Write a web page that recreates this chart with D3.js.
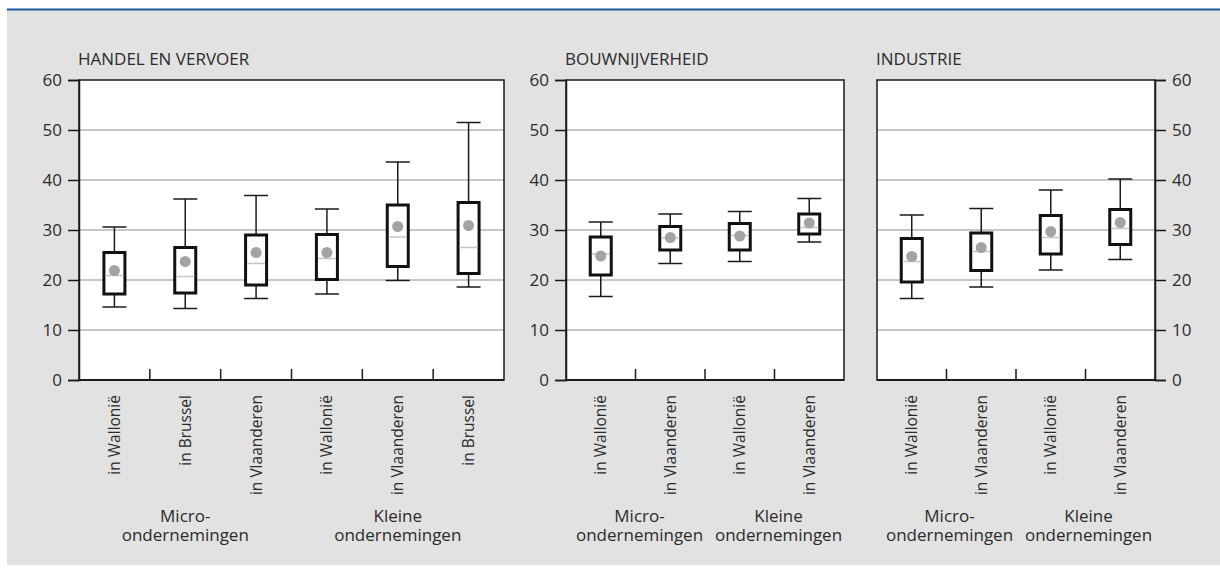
<!DOCTYPE html>
<html>
<head>
<meta charset="utf-8">
<script src="https://cdnjs.cloudflare.com/ajax/libs/d3/7.8.5/d3.min.js"></script>
<style>
  body { margin: 0; background: #fff; }
  svg { display: block; font-family: "Open Sans", "Noto Sans", sans-serif; }
  text { fill: #2b2b2b; }
</style>
</head>
<body>
<div id="plot"></div>
<script>
/* Step 1
 * Data
 */
// =================================
var yTicks = [0, 10, 20, 30, 40, 50, 60];

// HANDEL EN VERVOER
var handelCats = ["in Wallonië", "in Brussel", "in Vlaanderen", "in Wallonië", "in Vlaanderen", "in Brussel"];
var handelLow = [14.6, 14.3, 16.3, 17.2, 19.9, 18.6];
var handelQ1 = [17.2, 17.4, 19.0, 20.1, 22.7, 21.3];
var handelMedian = [20.9, 20.7, 23.3, 24.3, 28.6, 26.5];
var handelQ3 = [25.5, 26.5, 29.0, 29.1, 35.0, 35.5];
var handelHigh = [30.6, 36.2, 36.9, 34.2, 43.6, 51.5];
var handelMean = [21.9, 23.7, 25.5, 25.5, 30.7, 30.9];

// BOUWNIJVERHEID
var bouwCats = ["in Wallonië", "in Vlaanderen", "in Wallonië", "in Vlaanderen"];
var bouwLow = [16.7, 23.3, 23.7, 27.6];
var bouwQ1 = [21.0, 26.0, 26.0, 29.2];
var bouwMedian = [25.2, 28.4, 28.9, 30.5];
var bouwQ3 = [28.6, 30.7, 31.3, 33.2];
var bouwHigh = [31.6, 33.2, 33.7, 36.3];
var bouwMean = [24.8, 28.5, 28.8, 31.4];

// INDUSTRIE
var industrieCats = ["in Wallonië", "in Vlaanderen", "in Wallonië", "in Vlaanderen"];
var industrieLow = [16.3, 18.6, 22.0, 24.1];
var industrieQ1 = [19.6, 21.9, 25.2, 27.1];
var industrieMedian = [23.7, 25.7, 28.5, 30.3];
var industrieQ3 = [28.3, 29.4, 32.9, 34.1];
var industrieHigh = [33.0, 34.3, 38.0, 40.2];
var industrieMean = [24.7, 26.5, 29.7, 31.5];

var groupLabels = [["Micro-", "ondernemingen"], ["Kleine", "ondernemingen"]];

/* Step 2
 * Workspace
 */
// =================================
var svgWidth = 1220;
var svgHeight = 574;

var svg = d3.select("#plot")
    .append("svg")
    .attr("width", svgWidth)
    .attr("height", svgHeight);

// grey backdrop + blue rule on top
svg.append("rect")
    .attr("x", 7)
    .attr("y", 10)
    .attr("width", svgWidth - 7)
    .attr("height", 555)
    .attr("fill", "#e2e2e2");

svg.append("line")
    .attr("x1", 7)
    .attr("x2", svgWidth)
    .attr("y1", 9.5)
    .attr("y2", 9.5)
    .attr("stroke", "#1d5996")
    .attr("stroke-width", 2);

var yScale = d3.scaleLinear()
    .domain([0, 60])
    .range([380, 80]);

function buildPanel(p) {
    var x0 = p.left, x1 = p.right;
    var g = svg.append("g");

    var stats = p.cats.map(function (c, i) {
        return {
            idx: i, cat: c, low: p.low[i], q1: p.q1[i], median: p.median[i],
            q3: p.q3[i], high: p.high[i], mean: p.mean[i]
        };
    });

    var xScale = d3.scaleBand()
        .domain(d3.range(p.cats.length))
        .range([x0, x1]);

    // white plot area
    g.append("rect")
        .attr("x", x0)
        .attr("y", yScale(60))
        .attr("width", x1 - x0)
        .attr("height", yScale(0) - yScale(60))
        .attr("fill", "#fff");

    // gridlines
    g.selectAll(".grid")
        .data(yTicks.filter(function (t) { return t > 0 && t < 60; }))
        .enter()
        .append("line")
        .attr("x1", x0)
        .attr("x2", x1)
        .attr("y1", function (d) { return yScale(d); })
        .attr("y2", function (d) { return yScale(d); })
        .attr("stroke", "#b4b4b4")
        .attr("stroke-width", 1.5);

    // frame
    g.append("rect")
        .attr("x", x0)
        .attr("y", yScale(60))
        .attr("width", x1 - x0)
        .attr("height", yScale(0) - yScale(60))
        .attr("fill", "none")
        .attr("stroke", "#1a1a1a")
        .attr("stroke-width", 1.5);

    // value axis
    var axis = p.axisRight ? d3.axisRight(yScale) : d3.axisLeft(yScale);
    axis.tickValues(yTicks).tickSize(11).tickPadding(6);
    var axG = g.append("g")
        .attr("transform", "translate(" + (p.axisRight ? x1 : x0) + ",0)")
        .call(axis);
    axG.select(".domain").attr("stroke", "#1a1a1a").attr("stroke-width", 1.5);
    axG.selectAll(".tick line").attr("stroke", "#1a1a1a").attr("stroke-width", 1.5);
    axG.selectAll(".tick text")
        .attr("font-size", "17px")
        .attr("fill", "#2b2b2b")
        .attr("font-family", "'Open Sans', sans-serif");

    // bottom axis line + category separators (pointing up)
    g.append("line")
        .attr("x1", x0).attr("x2", x1)
        .attr("y1", yScale(0)).attr("y2", yScale(0))
        .attr("stroke", "#1a1a1a").attr("stroke-width", 2);
    g.selectAll(".sep")
        .data(d3.range(1, p.cats.length))
        .enter()
        .append("line")
        .attr("x1", function (d) { return xScale(d); })
        .attr("x2", function (d) { return xScale(d); })
        .attr("y1", yScale(0))
        .attr("y2", yScale(0) - 11)
        .attr("stroke", "#1a1a1a")
        .attr("stroke-width", 1.5);

    // title
    g.append("text")
        .attr("x", x0 - 1)
        .attr("y", 65)
        .attr("font-size", "17px")
        .text(p.title);

    // boxes
    var bw = 24;
    var boxes = g.selectAll(".box")
        .data(stats)
        .enter()
        .append("g")
        .attr("transform", function (d) {
            return "translate(" + (xScale(d.idx) + xScale.bandwidth() / 2) + ",0)";
        });

    // whiskers
    boxes.append("line")
        .attr("x1", 0).attr("x2", 0)
        .attr("y1", function (d) { return yScale(d.high); })
        .attr("y2", function (d) { return yScale(d.q3); })
        .attr("stroke", "#1a1a1a").attr("stroke-width", 1.5);
    boxes.append("line")
        .attr("x1", 0).attr("x2", 0)
        .attr("y1", function (d) { return yScale(d.q1); })
        .attr("y2", function (d) { return yScale(d.low); })
        .attr("stroke", "#1a1a1a").attr("stroke-width", 1.5);
    boxes.append("line")
        .attr("x1", -bw / 2).attr("x2", bw / 2)
        .attr("y1", function (d) { return yScale(d.high); })
        .attr("y2", function (d) { return yScale(d.high); })
        .attr("stroke", "#1a1a1a").attr("stroke-width", 1.5);
    boxes.append("line")
        .attr("x1", -bw / 2).attr("x2", bw / 2)
        .attr("y1", function (d) { return yScale(d.low); })
        .attr("y2", function (d) { return yScale(d.low); })
        .attr("stroke", "#1a1a1a").attr("stroke-width", 1.5);

    // box itself
    boxes.append("rect")
        .attr("x", -bw / 2 + 1.5)
        .attr("width", bw - 3)
        .attr("y", function (d) { return yScale(d.q3); })
        .attr("height", function (d) { return yScale(d.q1) - yScale(d.q3); })
        .attr("fill", "#fff")
        .attr("stroke", "#111")
        .attr("stroke-width", 3);

    // median
    boxes.append("line")
        .attr("x1", -bw / 2 + 3).attr("x2", bw / 2 - 3)
        .attr("y1", function (d) { return yScale(d.median); })
        .attr("y2", function (d) { return yScale(d.median); })
        .attr("stroke", "#c4c4c4").attr("stroke-width", 1.5);

    // mean dot
    boxes.append("circle")
        .attr("cx", 0)
        .attr("cy", function (d) { return yScale(d.mean); })
        .attr("r", 5.5)
        .attr("fill", "#a3a3a3");

    // category labels, rotated
    g.selectAll(".cat")
        .data(stats)
        .enter()
        .append("text")
        .attr("transform", function (d) {
            return "translate(" + (xScale(d.idx) + xScale.bandwidth() / 2) + ",395) rotate(-90)";
        })
        .attr("dy", "0.35em")
        .attr("text-anchor", "end")
        .attr("font-size", "15.5px")
        .text(function (d) { return d.cat; });

    // group labels (two groups of equal size)
    var half = p.cats.length / 2;
    groupLabels.forEach(function (lines, gi) {
        var cx = (xScale(gi * half) + xScale(gi * half + half - 1) + xScale.bandwidth()) / 2 + (p.groupShift || 0);
        var t = g.append("text")
            .attr("text-anchor", "middle")
            .attr("font-size", "17px");
        lines.forEach(function (ln, li) {
            t.append("tspan")
                .attr("x", cx)
                .attr("y", 522 + li * 18.5)
                .text(ln);
        });
    });
}

/* Step 3
 * Draw the three panels
 */
// =================================
buildPanel({
    title: "HANDEL EN VERVOER", left: 79, right: 504,
    cats: handelCats, low: handelLow, q1: handelQ1, median: handelMedian,
    q3: handelQ3, high: handelHigh, mean: handelMean
});
buildPanel({
    title: "BOUWNIJVERHEID", left: 566, right: 844, groupShift: 4,
    cats: bouwCats, low: bouwLow, q1: bouwQ1, median: bouwMedian,
    q3: bouwQ3, high: bouwHigh, mean: bouwMean
});
buildPanel({
    title: "INDUSTRIE", left: 877, right: 1155, axisRight: true, groupShift: 3,
    cats: industrieCats, low: industrieLow, q1: industrieQ1, median: industrieMedian,
    q3: industrieQ3, high: industrieHigh, mean: industrieMean
});
</script>
</body>
</html>
